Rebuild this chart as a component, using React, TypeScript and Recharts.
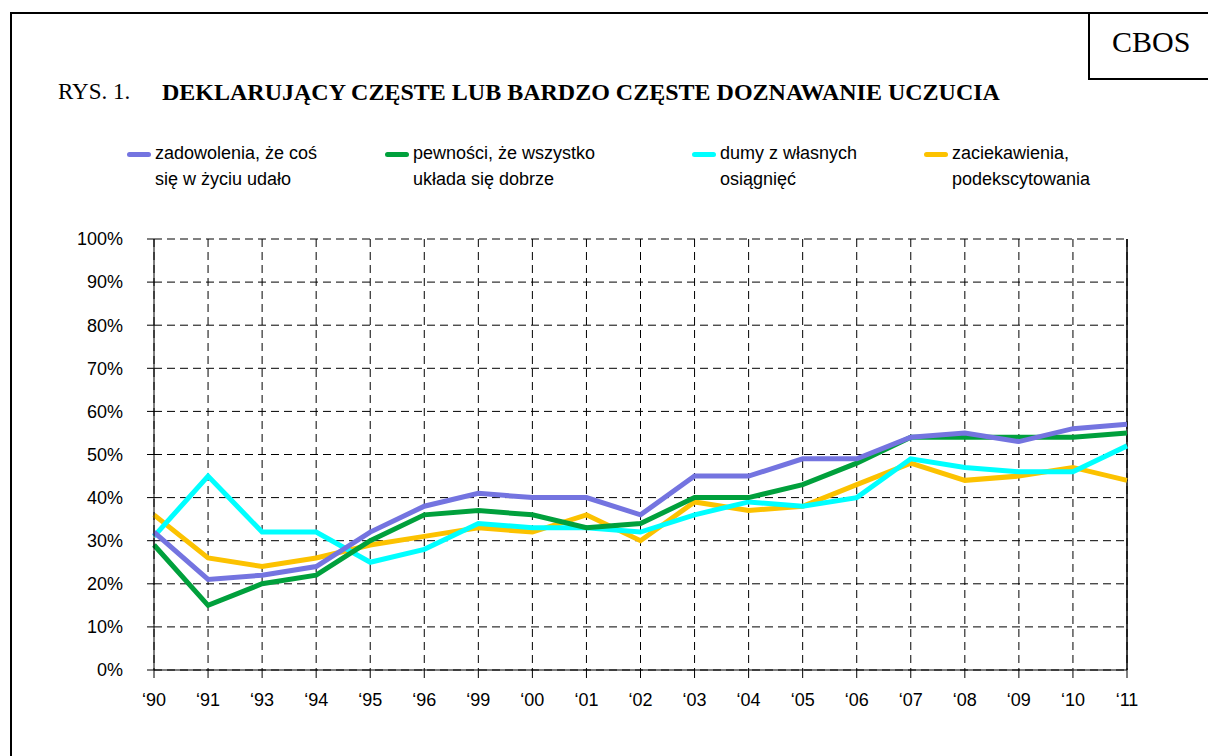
import { LineChart, Line, XAxis, YAxis, CartesianGrid, ReferenceLine } from 'recharts';

const years = ['‘90', '‘91', '‘93', '‘94', '‘95', '‘96', '‘99', '‘00', '‘01', '‘02', '‘03', '‘04', '‘05', '‘06', '‘07', '‘08', '‘09', '‘10', '‘11'];
const zadowolenia = [32, 21, 22, 24, 32, 38, 41, 40, 40, 36, 45, 45, 49, 49, 54, 55, 53, 56, 57];
const pewnosci = [29, 15, 20, 22, 30, 36, 37, 36, 33, 34, 40, 40, 43, 48, 54, 54, 54, 54, 55];
const dumy = [31, 45, 32, 32, 25, 28, 34, 33, 33, 32, 36, 39, 38, 40, 49, 47, 46, 46, 52];
const zaciekawienia = [36, 26, 24, 26, 29, 31, 33, 32, 36, 30, 39, 37, 38, 43, 48, 44, 45, 47, 44];
const yTicks = [0, 10, 20, 30, 40, 50, 60, 70, 80, 90, 100];

const seriesNames = [
  ['zadowolenia, że coś', 'się w życiu udało'],
  ['pewności, że wszystko', 'układa się dobrze'],
  ['dumy z własnych', 'osiągnięć'],
  ['zaciekawienia,', 'podekscytowania'],
];
const seriesKeys = ['zad', 'pew', 'dum', 'zac'];
const seriesColors = ['#7474E0', '#00A03C', '#00FFFF', '#FCC200'];

const data = years.map((year, i) => ({
  year,
  zad: zadowolenia[i],
  pew: pewnosci[i],
  dum: dumy[i],
  zac: zaciekawienia[i],
}));

const legendLeft = [127, 385, 692, 924];
const sans = '"Liberation Sans", Arial, sans-serif';
const serif = '"Liberation Serif", "Times New Roman", serif';

export default function App() {
  return (
    <div style={{ position: 'absolute', left: 0, top: 0, width: 1208, height: 756, overflow: 'hidden', background: '#fff' }}>
      <div style={{ position: 'absolute', left: 10, top: 12, width: 1220, height: 780, border: '2px solid #000' }} />
      <div style={{ position: 'absolute', left: 1088, top: 12, width: 130, height: 64, border: '2px solid #000' }} />
      <div style={{ position: 'absolute', left: 1112, top: 25, fontFamily: serif, fontSize: 30, lineHeight: '34px' }}>CBOS</div>
      <div style={{ position: 'absolute', left: 58, top: 79, fontFamily: serif, fontSize: 23, lineHeight: '26px', whiteSpace: 'nowrap' }}>
        RYS. 1.
      </div>
      <div style={{ position: 'absolute', left: 162, top: 79, fontFamily: serif, fontSize: 24, lineHeight: '26px', fontWeight: 'bold', whiteSpace: 'nowrap' }}>
        DEKLARUJĄCY CZĘSTE LUB BARDZO CZĘSTE DOZNAWANIE UCZUCIA
      </div>
      {seriesNames.map((lines, i) => (
        <div key={i} style={{ position: 'absolute', left: legendLeft[i], top: 140, display: 'flex', fontFamily: sans, fontSize: 18, lineHeight: '26px' }}>
          <div style={{ width: 24, height: 5, borderRadius: 3, background: seriesColors[i], marginTop: 12, marginRight: 4 }} />
          <div>
            {lines.map((l, j) => (
              <div key={j} style={{ whiteSpace: 'nowrap' }}>{l}</div>
            ))}
          </div>
        </div>
      ))}
      <div style={{ position: 'absolute', left: 0, top: 0 }}>
        <LineChart width={1208} height={756} data={data} margin={{ top: 239, right: 81, bottom: 0, left: 0 }}>
          <CartesianGrid stroke="#000" strokeDasharray="8 5" />
          <XAxis
            dataKey="year"
            stroke="#000"
            tickSize={8}
            tickMargin={15}
            height={86}
            interval={0}
            tick={{ fill: '#000', fontFamily: sans, fontSize: 18 }}
          />
          <YAxis
            domain={[0, 100]}
            ticks={yTicks}
            width={154}
            stroke="#000"
            tickSize={7}
            tickMargin={24}
            tickFormatter={(v) => `${v}%`}
            tick={{ fill: '#000', fontFamily: sans, fontSize: 18 }}
          />
          <ReferenceLine x={years[years.length - 1]} stroke="#000" strokeWidth={1.5} />
          {[3, 2, 1, 0].map((i) => (
            <Line
              key={seriesKeys[i]}
              dataKey={seriesKeys[i]}
              stroke={seriesColors[i]}
              strokeWidth={5}
              dot={false}
              isAnimationActive={false}
              strokeLinejoin="miter"
            />
          ))}
        </LineChart>
      </div>
    </div>
  );
}
